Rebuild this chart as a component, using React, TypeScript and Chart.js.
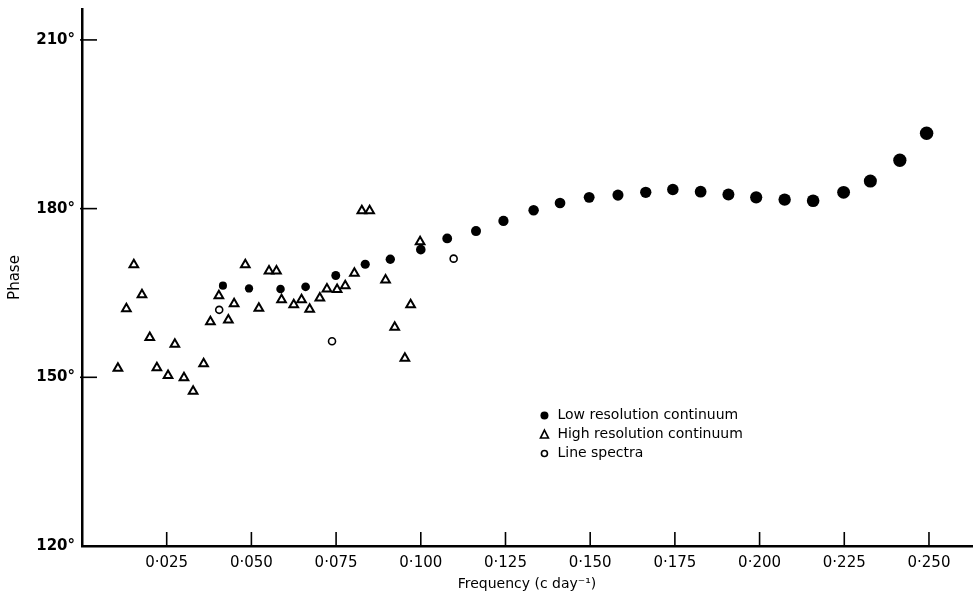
import React, { useEffect, useRef } from "react";
import { Chart, registerables } from "chart.js";

Chart.register(...registerables);

// Low resolution continuum (filled circles)
const lowFreq = [0.0416, 0.0493, 0.0586, 0.066, 0.0749, 0.0836, 0.091, 0.1, 0.1078, 0.1163, 0.1244, 0.1333, 0.1411, 0.1497, 0.1582, 0.1664, 0.1744, 0.1826, 0.1908, 0.199, 0.2074, 0.2158, 0.2248, 0.2327, 0.2414, 0.2493];
const lowPhase = [166.3, 165.8, 165.7, 166.1, 168.1, 170.1, 171.0, 172.7, 174.7, 176.0, 177.8, 179.7, 181.0, 182.0, 182.4, 182.9, 183.4, 183.0, 182.5, 182.0, 181.6, 181.4, 182.9, 184.9, 188.6, 193.4];

// High resolution continuum (open triangles)
const highFreq = [0.0106, 0.0131, 0.0153, 0.0177, 0.02, 0.0221, 0.0254, 0.0274, 0.0301, 0.0328, 0.0359, 0.0379, 0.0404, 0.0432, 0.0449, 0.0482, 0.0522, 0.0552, 0.0574, 0.0589, 0.0625, 0.0648, 0.0672, 0.0702, 0.0723, 0.0753, 0.0777, 0.0804, 0.0826, 0.0849, 0.0896, 0.0923, 0.0953, 0.097, 0.0998];
const highPhase = [151.6, 162.2, 170.0, 164.7, 157.1, 151.7, 150.3, 155.9, 149.9, 147.5, 152.4, 159.9, 164.5, 160.2, 163.1, 170.0, 162.3, 168.9, 168.9, 163.8, 162.9, 163.8, 162.1, 164.1, 165.7, 165.6, 166.3, 168.5, 179.6, 179.6, 167.3, 158.9, 153.4, 162.9, 174.1];

// Line spectra (open circles)
const lineFreq = [0.0405, 0.0738, 0.1097];
const linePhase = [162.0, 156.4, 171.1];

const xTickValues = [0.025, 0.05, 0.075, 0.1, 0.125, 0.15, 0.175, 0.2, 0.225, 0.25];
const yTickValues = [120, 150, 180, 210];
const yInnerTicks = [150, 180, 210];

const legendLabels = ["Low resolution continuum", "High resolution continuum", "Line spectra"];

const FONT = "'DejaVu Sans', sans-serif";

const fmtX = (v: number) => v.toFixed(3).replace(".", "\u00B7");

const toPts = (xs: number[], ys: number[]) => xs.map((x, i) => ({ x, y: ys[i] }));

const innerTicksPlugin = {
  id: "innerTicks",
  afterDraw(chart: any) {
    const { ctx } = chart;
    const x = chart.scales.x;
    const y = chart.scales.y;
    ctx.save();
    ctx.strokeStyle = "#000";
    ctx.fillStyle = "#000";
    ctx.lineWidth = 1.6;
    for (const v of xTickValues) {
      const px = x.getPixelForValue(v);
      ctx.beginPath();
      ctx.moveTo(px, y.bottom);
      ctx.lineTo(px, y.bottom - 14);
      ctx.stroke();
    }
    for (const v of yInnerTicks) {
      const py = y.getPixelForValue(v);
      ctx.beginPath();
      ctx.moveTo(x.left - 2, py);
      ctx.lineTo(x.left + 15, py);
      ctx.stroke();
    }
    // legend
    const lx = x.getPixelForValue(0.1365);
    const ly0 = y.getPixelForValue(143.2);
    const step = 19;
    ctx.font = `14px ${FONT}`;
    ctx.textBaseline = "middle";
    ctx.textAlign = "left";
    legendLabels.forEach((label, i) => {
      const ly = ly0 + i * step;
      ctx.lineWidth = 1.6;
      if (i === 0) {
        ctx.beginPath();
        ctx.arc(lx, ly, 4, 0, Math.PI * 2);
        ctx.fill();
      } else if (i === 1) {
        ctx.beginPath();
        ctx.moveTo(lx, ly - 4.5);
        ctx.lineTo(lx + 4, ly + 3.5);
        ctx.lineTo(lx - 4, ly + 3.5);
        ctx.closePath();
        ctx.stroke();
      } else {
        ctx.beginPath();
        ctx.arc(lx, ly, 3, 0, Math.PI * 2);
        ctx.stroke();
      }
      ctx.fillText(label, lx + 13, ly);
    });
    ctx.restore();
  },
};

export default function App() {
  const canvasRef = useRef<HTMLCanvasElement | null>(null);

  useEffect(() => {
    if (!canvasRef.current) return;
    const chart = new Chart(canvasRef.current, {
      type: "scatter",
      data: {
        datasets: [
          {
            label: legendLabels[0],
            data: toPts(lowFreq, lowPhase),
            pointStyle: "circle",
            backgroundColor: "#000",
            borderColor: "#000",
            borderWidth: 0,
            pointRadius: (c: any) => 3.5 + 13 * (c.raw ? c.raw.x : 0.1),
          },
          {
            label: legendLabels[1],
            data: toPts(highFreq, highPhase),
            pointStyle: "triangle",
            backgroundColor: "rgba(0,0,0,0)",
            borderColor: "#000",
            borderWidth: 2,
            pointRadius: 5,
          },
          {
            label: legendLabels[2],
            data: toPts(lineFreq, linePhase),
            pointStyle: "circle",
            backgroundColor: "rgba(0,0,0,0)",
            borderColor: "#000",
            borderWidth: 1.6,
            pointRadius: 3.5,
          },
        ],
      },
      options: {
        animation: false,
        responsive: true,
        maintainAspectRatio: false,
        layout: { padding: { top: 9, right: 1, left: 0, bottom: 0 } },
        plugins: {
          legend: { display: false },
          tooltip: { enabled: false },
        },
        scales: {
          x: {
            type: "linear",
            min: 0,
            max: 0.2627,
            grid: { display: false, drawTicks: false },
            border: { display: true, color: "#000", width: 2.5 },
            afterBuildTicks: (s: any) => {
              s.ticks = xTickValues.map((v) => ({ value: v }));
            },
            afterFit: (s: any) => {
              s.height = 52;
              s.paddingLeft = 0;
              s.paddingRight = 0;
            },
            ticks: {
              color: "#000",
              padding: 8,
              maxRotation: 0,
              autoSkip: false,
              font: { family: FONT, size: 15 },
              callback: (v: any) => fmtX(Number(v)),
            },
            title: {
              display: true,
              text: "Frequency (c day\u207B\u00B9)",
              color: "#000",
              font: { family: FONT, size: 14 },
              padding: { top: 0, bottom: 5 },
            },
          },
          y: {
            type: "linear",
            min: 120,
            max: 215.5,
            grid: { display: false, drawTicks: false },
            border: { display: true, color: "#000", width: 2.5 },
            afterBuildTicks: (s: any) => {
              s.ticks = yTickValues.map((v) => ({ value: v }));
            },
            afterFit: (s: any) => {
              s.width = 82;
              s.paddingTop = 0;
              s.paddingBottom = 0;
            },
            ticks: {
              color: "#000",
              padding: 7,
              autoSkip: false,
              font: { family: FONT, size: 15, weight: "bold" },
              callback: (v: any) => `${v}\u00B0`,
            },
            title: {
              display: true,
              text: "Phase",
              color: "#000",
              font: { family: FONT, size: 15 },
              padding: { top: 6, bottom: 0 },
            },
          },
        },
      },
      plugins: [innerTicksPlugin],
    } as any);
    return () => chart.destroy();
  }, []);

  return (
    <div style={{ position: "fixed", left: 0, top: 0, width: 979, height: 598, background: "#fff" }}>
      <canvas ref={canvasRef} />
    </div>
  );
}
